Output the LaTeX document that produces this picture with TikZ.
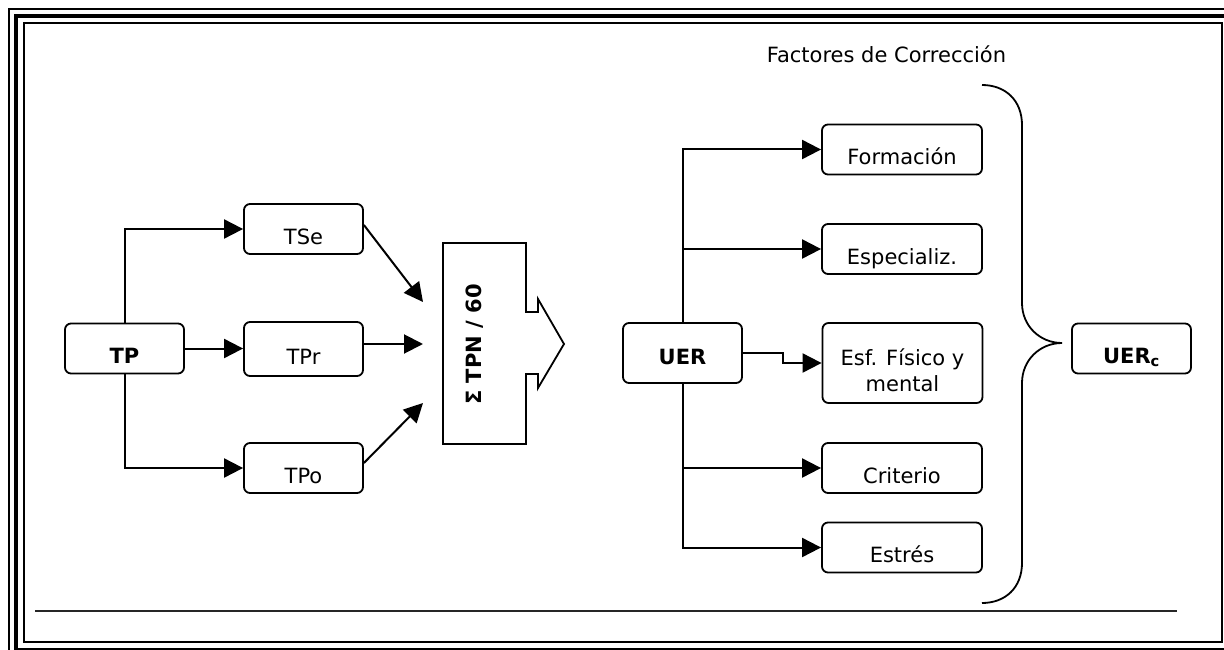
\documentclass[tikz,border=0pt]{standalone}
\usepackage{fontspec}
\setmainfont{DejaVu Sans}
\usepackage{tikz}
\usetikzlibrary{arrows.meta,positioning}
\tikzstyle{caja} = [rectangle, draw, line width=1.8pt, rounded corners=6pt,
    minimum width=119pt, inner xsep=0pt, inner ysep=0pt, align=center,
    text height=40pt, text depth=10pt, font=\fontsize{21}{26}\selectfont]
\tikzstyle{factor} = [caja, minimum width=160pt]
\tikzstyle{line} = [draw, line width=2pt, -{Triangle[length=19pt,width=19pt]}]
\tikzstyle{trazo} = [draw, line width=1.8pt]

\begin{document}
\begin{tikzpicture}[x=1pt, y=-1pt]
  \clip (0,0) rectangle (1224,650);
  % Frame
  \draw [line width=1.5pt] (9,9) rectangle (1236,657);
  \draw [line width=4pt] (16,16) rectangle (1229,649.5);
  \draw [line width=2pt] (23.5,23.5) rectangle (1222,641.5);
  \draw [line width=1.3pt, black!85] (35,611) -- (1177,611);
  % Place nodes
  \node [caja] (tp) at (124.5,348.5) {\textbf{TP}};
  \node [caja] (tse) at (303.5,229) {TSe};
  \node [caja, text height=42pt, text depth=12pt] (tpr) at (303.5,349) {TPr};
  \node [caja] (tpo) at (303.5,468) {TPo};
  \node [rotate=90, font=\fontsize{21}{26}\selectfont\bfseries] (sum) at (475,344.5) {Σ TPN / 60};
  \coordinate (in1) at (423,302);
  \coordinate (in2) at (423,344);
  \coordinate (in3) at (423,403);
  \node [caja, text height=41pt, text depth=19pt] (uer) at (682.5,353) {\textbf{UER}};
  \node [font=\fontsize{21}{26}\selectfont, anchor=base] (titulo) at (886.5,63) {Factores de Corrección};
  \node [factor] (form) at (902,149.5) {Formación};
  \node [factor] (espe) at (902,249) {Especializ.};
  \node [factor, text height=68pt, text depth=12pt] (esf) at (902.5,363) {Esf. Físico y\\mental};
  \node [factor] (crit) at (902,468) {Criterio};
  \node [factor] (estr) at (902,547.5) {Estrés};
  \node [caja] (uerc) at (1131.5,348.5) {\textbf{UER\textsubscript{c}}};
  % Sum outline
  \draw [trazo] (443,243) -- (526,243) -- (526,312) -- (538,312) -- (538,299)
    -- (564,344) -- (538,388) -- (538,374) -- (526,374) -- (526,444) -- (443,444) -- cycle;
  % Brace
  \draw [trazo] (982,85) .. controls (1005,85) and (1022,100) .. (1022,125) -- (1022,303)
    .. controls (1022,326) and (1040,343) .. (1062,343)
    .. controls (1040,343) and (1022,360) .. (1022,383) -- (1022,563)
    .. controls (1022,588) and (1005,603) .. (982,603);
  % Draw edges
  \path [line] (tp.north) |- (tse.west);
  \path [line] (tp.east) -- (tp.east -| tpr.west);
  \path [line] (tp.south) |- (tpo.west);
  \path [line] ([yshift=4pt]tse.east) -- (in1);
  \path [line] (tpr.east |- in2) -- (in2);
  \path [line] ([yshift=5pt]tpo.east) -- (in3);
  \path [line] (uer.north) |- (form.west);
  \path [line] (uer.north) |- (espe.west);
  \path [line] (uer.east) -- ++(40,0) |- (esf.west);
  \path [line] (uer.south) |- (crit.west);
  \path [line] (uer.south) |- (estr.west);
\end{tikzpicture}
\end{document}
